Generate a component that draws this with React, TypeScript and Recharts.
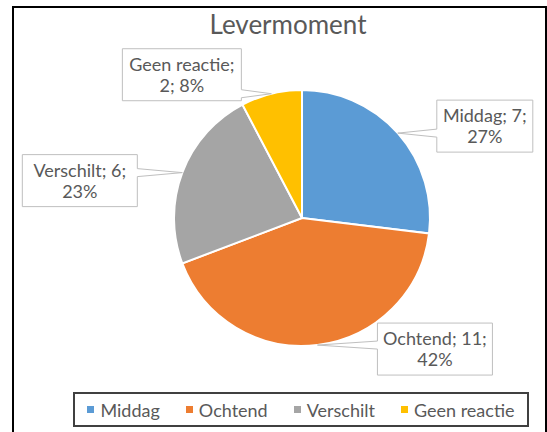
import { PieChart, Pie, Cell, Legend } from 'recharts';

const categories = ['Middag', 'Ochtend', 'Verschilt', 'Geen reactie'];
const counts = [7, 11, 6, 2];
const colors = ['#5B9BD5', '#ED7D31', '#A5A5A5', '#FFC000'];

const data = categories.map((name, i) => ({ name, value: counts[i] }));
const total = counts.reduce((a, b) => a + b, 0);

const FONT = 'Lato, "Noto Sans", sans-serif';
const TEXT = '#595959';
const RADIAN = Math.PI / 180;

// callout box placement, relative to the point where the slice edge is labelled
const callouts: Record<string, { dx: number; dy: number; w: number; side: 'left' | 'right' }> = {
  Middag: { dx: 39, dy: -33, w: 96, side: 'left' },
  Ochtend: { dx: 60, dy: -22, w: 115, side: 'left' },
  Verschilt: { dx: -160, dy: -18, w: 115, side: 'right' },
  'Geen reactie': { dx: -149, dy: -45, w: 119, side: 'right' },
};

// greedy word wrap, like Excel does inside the data label box
const wrap = (s: string, max: number) => {
  const lines: string[] = [];
  let cur = '';
  s.split(' ').forEach((w) => {
    const next = cur ? `${cur} ${w}` : w;
    if (next.length > max && cur) {
      lines.push(cur);
      cur = w;
    } else {
      cur = next;
    }
  });
  if (cur) lines.push(cur);
  return lines;
};

const renderCallout = (props: any) => {
  const { cx, cy, midAngle, outerRadius, value } = props;
  const name = props.name ?? props.payload?.name;
  const c = callouts[name];
  const ax = cx + outerRadius * Math.cos(-midAngle * RADIAN);
  const ay = cy + outerRadius * Math.sin(-midAngle * RADIAN);
  const h = 52;
  const x = ax + c.dx;
  const y = ay + c.dy;
  const wy = Math.min(Math.max(ay, y + 6), y + h - 6);
  let d = '';
  if (c.side === 'left') {
    d = `M${x},${y} H${x + c.w} V${y + h} H${x} V${wy + 4} L${ax},${ay} L${x},${wy - 4} Z`;
  } else {
    d = `M${x},${y} H${x + c.w} V${wy - 4} L${ax},${ay} L${x + c.w},${wy + 4} V${y + h} H${x} Z`;
  }
  const pct = Math.round((value / total) * 100);
  const lines = wrap(`${name}; ${value}; ${pct}%`, 13);
  return (
    <g>
      <path d={d} fill="#fff" stroke="#BFBFBF" strokeWidth={1} />
      {lines.map((ln, i) => (
        <text
          key={i}
          x={x + c.w / 2}
          y={y + 22 + i * 21}
          textAnchor="middle"
          fill={TEXT}
          fontSize={18}
          fontFamily={FONT}
        >
          {ln}
        </text>
      ))}
    </g>
  );
};

const renderLegend = (props: any) => {
  const items = [...props.payload].sort(
    (a: any, b: any) => categories.indexOf(a.value) - categories.indexOf(b.value)
  );
  return (
    <div
      style={{
        boxSizing: 'border-box',
        height: 35,
        border: '2px solid #404040',
        display: 'flex',
        justifyContent: 'center',
        alignItems: 'center',
        gap: 26,
        fontFamily: FONT,
        fontSize: 18,
        color: TEXT,
      }}
    >
      {items.map((entry: any) => (
        <span key={entry.value} style={{ display: 'flex', alignItems: 'center', gap: 6 }}>
          <span style={{ width: 7, height: 7, background: entry.color, display: 'inline-block' }} />
          {entry.value}
        </span>
      ))}
    </div>
  );
};

export default function App() {
  return (
    <div style={{ position: 'absolute', left: 0, top: 0, width: 547, height: 432, background: '#fff', overflow: 'hidden' }}>
      <div
        style={{
          position: 'absolute',
          left: 12,
          top: 6,
          width: 535,
          height: 440,
          border: '2px solid #000',
          boxSizing: 'border-box',
        }}
      />
      <div
        style={{
          position: 'absolute',
          left: 0,
          width: 576,
          top: 8,
          textAlign: 'center',
          fontFamily: FONT,
          fontSize: 26,
          color: TEXT,
        }}
      >
        Levermoment
      </div>
      <div style={{ position: 'absolute', left: 0, top: 0 }}>
        <PieChart width={547} height={432} margin={{ top: 0, right: 0, bottom: 0, left: 0 }}>
          <Pie
            data={data}
            dataKey="value"
            nameKey="name"
            cx={302}
            cy={218}
            outerRadius={128}
            startAngle={90}
            endAngle={-270}
            stroke="#fff"
            strokeWidth={2}
            label={renderCallout}
            labelLine={false}
            isAnimationActive={false}
          >
            {data.map((d, i) => (
              <Cell key={d.name} fill={colors[i]} />
            ))}
          </Pie>
          <Legend
            verticalAlign="bottom"
            content={renderLegend}
            wrapperStyle={{ left: 73, bottom: 5, width: 456, height: 35 }}
          />
        </PieChart>
      </div>
    </div>
  );
}
